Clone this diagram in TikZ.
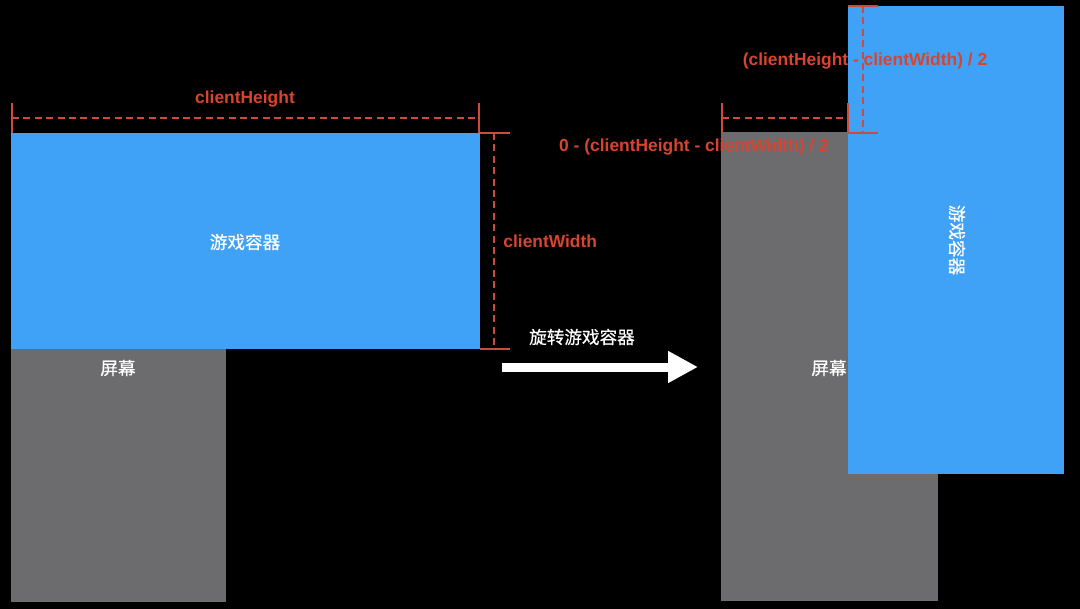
\documentclass[tikz,border=0pt]{standalone}
\usepackage{fontspec}
\setmainfont{Liberation Sans}
\newfontfamily\cjk[FakeBold=0.4]{Noto Sans CJK SC}
\usepackage{tikz}
\usetikzlibrary{arrows.meta,positioning,calc}
\definecolor{gameblue}{HTML}{3FA2F7}
\definecolor{screengray}{HTML}{6C6C6F}
\definecolor{dimred}{HTML}{D8442F}
\definecolor{linered}{HTML}{CF4A3C}

\begin{document}
\begin{tikzpicture}[
  x=0.5pt,y=-0.5pt,
  game/.style={fill=gameblue},
  screen/.style={fill=screengray},
  tickline/.style={draw=linered,line width=0.7pt},
  dimline/.style={draw=linered,line width=0.7pt,dash pattern=on 3.5pt off 2.2pt},
  dimtext/.style={text=dimred,font=\fontsize{8.7pt}{10pt}\selectfont\bfseries,inner sep=0pt},
  cntext/.style={text=white,font=\cjk\fontsize{8.8pt}{10pt}\selectfont,inner sep=0pt},
  bigarr/.style={draw=white,line width=4.5pt,-{Triangle[length=15pt,width=15pt]}}
]
% background, also the bounding box
\fill[black] (0,0) rectangle (1080,609);
\useasboundingbox (0,0) rectangle (1080,609);

% left: before rotation
\fill[screen] (11,349) rectangle (226,602);
\fill[game] (11,133) rectangle (480,349);
\node[cntext] (gameA) at (245,242) {游戏容器};
\node[cntext] (screenA) at (118,368) {屏幕};

% clientHeight
\coordinate (hL) at (12,118);
\coordinate (hR) at (479,118);
\draw[tickline] (12,103) -- (12,133);
\draw[tickline] (479,103) -- (479,133);
\draw[dimline] (hL) -- (hR);
\node[dimtext] (cH) at (245,99) {clientHeight};

% clientWidth
\coordinate (wT) at (494,133);
\coordinate (wB) at (494,349);
\draw[tickline] (480,133) -- (510,133);
\draw[tickline] (480,349) -- (510,349);
\draw[dimline] (wT) -- (wB);
\node[dimtext,anchor=west] (cW) at (503,241) {clientWidth};

% rotate arrow
\coordinate (rotS) at (502,367);
\coordinate (rotE) at (698,367);
\draw[bigarr] (rotS) -- (rotE);
\node[cntext] (rotT) at (582,337) {旋转游戏容器};

% right: after rotation
\fill[screen] (721,132) rectangle (938,601);
\fill[game] (848,6) rectangle (1064,474);
\node[cntext,anchor=east] (screenB) at (847,368) {屏幕};
\node[cntext,rotate=-90] (gameB) at (957,240) {游戏容器};

% left offset
\coordinate (oL) at (722,118);
\coordinate (oR) at (848,118);
\draw[tickline] (722,103) -- (722,133);
\draw[tickline] (848,103) -- (848,133);
\draw[dimline] (oL) -- (oR);
\node[dimtext] (offL) at (694,147) {0 - (clientHeight - clientWidth) / 2};

% top offset
\coordinate (oT) at (863,6);
\coordinate (oB) at (863,133);
\draw[tickline] (848,6) -- (878,6);
\draw[tickline] (848,133) -- (878,133);
\draw[dimline] (oT) -- (oB);
\node[dimtext] (offT) at (865,61) {(clientHeight - clientWidth) / 2};
\end{tikzpicture}
\end{document}
